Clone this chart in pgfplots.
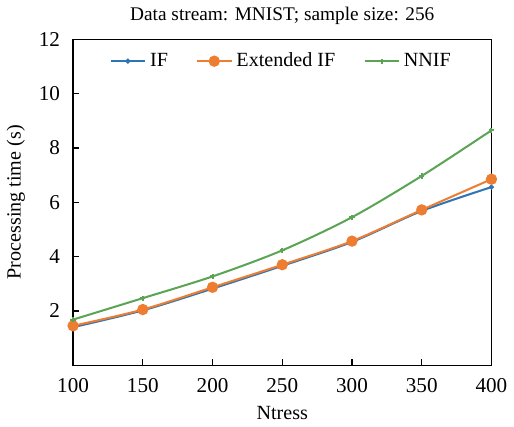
\documentclass[border=0pt]{standalone}
\usepackage{fontspec}
\setmainfont{Liberation Serif}
\usepackage{pgfplots}
\pgfplotsset{compat=1.18}
\definecolor{ifblue}{HTML}{2E75B6}
\definecolor{eiforange}{HTML}{ED7D31}
\definecolor{nnifgreen}{HTML}{5AA454}

\begin{document}
\begin{tikzpicture}
\begin{axis}[
  scale only axis,
  width=208pt,
  height=162pt,
  xmin=100, xmax=400,
  ymin=0, ymax=12,
  xtick={100,150,...,400},
  ytick={2,4,...,12},
  tick align=inside,
  xtick pos=bottom,
  ytick pos=left,
  major tick length=3pt,
  axis line style={black, line width=0.6pt},
  tick style={black, line width=0.6pt},
  /pgf/number format/assume math mode=true,
  tick label style={font=\fontsize{10.5}{12}\selectfont},
  xticklabel style={yshift=-3pt},
  yticklabel style={xshift=-3pt},
  xlabel={Ntress},
  ylabel={Processing time (s)},
  label style={font=\fontsize{10}{12}\selectfont},
  title={Data stream: MNIST; sample size: 256},
  title style={font=\fontsize{9.6}{11}\selectfont, yshift=-2pt},
  legend columns=3,
  legend style={at={(0.5,0.985)}, anchor=north, draw=none, fill=none,
    font=\fontsize{10}{12}\selectfont, /tikz/every even column/.append style={column sep=12pt}},
  legend cell align=left,
]
\addplot[color=ifblue, line width=1pt, smooth, mark=*, mark size=0.7pt] coordinates {
  (100,1.40) (150,2.02) (200,2.82) (250,3.66) (300,4.54) (350,5.68) (400,6.56)
};
\addplot[color=eiforange, line width=1pt, smooth, mark=*, mark size=2.3pt] coordinates {
  (100,1.45) (150,2.05) (200,2.87) (250,3.70) (300,4.57) (350,5.72) (400,6.85)
};
\addplot[color=nnifgreen, line width=1pt, smooth, mark=+, mark size=1.3pt] coordinates {
  (100,1.68) (150,2.47) (200,3.27) (250,4.23) (300,5.45) (350,6.97) (400,8.65)
};
\legend{IF, Extended IF, NNIF}
\end{axis}
\end{tikzpicture}
\end{document}
